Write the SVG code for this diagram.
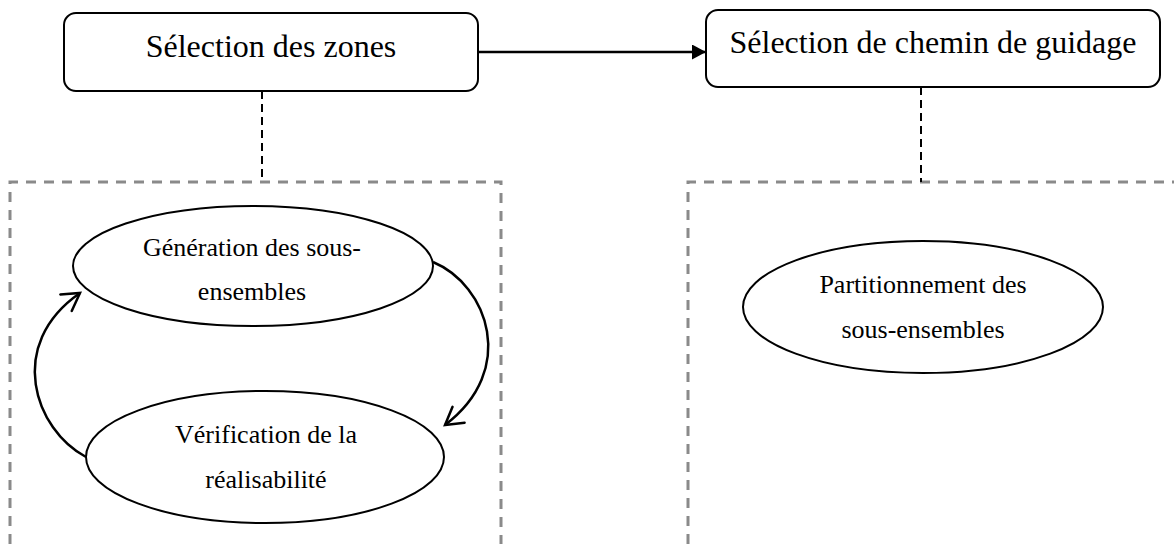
<svg xmlns="http://www.w3.org/2000/svg" width="1174" height="544" viewBox="0 0 1174 544">
  <style>
    .box { fill: #ffffff; stroke: #000000; stroke-width: 2; }
    .oval { fill: #ffffff; stroke: #000000; stroke-width: 2; }
    .title { font-family: "Liberation Serif", "Times New Roman", serif; font-size: 32px; fill: #000000; text-anchor: middle; }
    .label { font-family: "Liberation Serif", "Times New Roman", serif; font-size: 26px; fill: #000000; text-anchor: middle; }
    .frame { fill: none; stroke: #8a8a8a; stroke-width: 3; stroke-dasharray: 10 8; }
    .link { fill: none; stroke: #000000; stroke-width: 2; stroke-dasharray: 8 5; }
    .flow { fill: none; stroke: #000000; stroke-width: 2.5; }
    .loop { fill: none; stroke: #000000; stroke-width: 2.5; marker-end: url(#chevron); }
  </style>
  <defs>
    <marker id="solidHead" markerUnits="userSpaceOnUse" markerWidth="16" markerHeight="16" refX="14" refY="7.5" orient="auto">
      <path d="M0,0 L14,7.5 L0,15 Z" fill="#000000"/>
    </marker>
    <marker id="chevron" markerUnits="userSpaceOnUse" markerWidth="24" markerHeight="24" refX="17" refY="11" orient="auto" overflow="visible">
      <path d="M0,1 L17,11 L0,21" fill="none" stroke="#000000" stroke-width="2.5" stroke-linecap="round" stroke-linejoin="miter"/>
    </marker>
  </defs>

  <!-- dashed grouping frames -->
  <g id="frame-zones">
    <path class="frame" d="M10,544 V182 H501 V544"/>
  </g>
  <g id="frame-chemin">
    <path class="frame" d="M688,544 V182 H1176"/>
  </g>

  <!-- connectors -->
  <g id="connectors">
    <line class="flow" x1="478" y1="52" x2="706" y2="52" marker-end="url(#solidHead)"/>
    <line class="link" x1="262" y1="91" x2="262" y2="182"/>
    <line class="link" x1="921" y1="87" x2="921" y2="182"/>
    <path class="loop" d="M433,262 C488,285 518,370 445,425"/>
    <path class="loop" d="M86,457 C35,430 5,345 80,293"/>
  </g>

  <g id="node-selection-zones">
    <rect class="box" x="64" y="13" width="414" height="78" rx="12" ry="12"/>
    <text class="title" x="271" y="57">Sélection des zones</text>
  </g>

  <g id="node-selection-chemin">
    <rect class="box" x="706" y="10" width="454" height="77" rx="12" ry="12"/>
    <text class="title" x="933" y="53">Sélection de chemin de guidage</text>
  </g>

  <g id="node-generation">
    <ellipse class="oval" cx="253" cy="266" rx="180" ry="60"/>
    <text class="label" x="252" y="256">Génération des sous-</text>
    <text class="label" x="252" y="300">ensembles</text>
  </g>

  <g id="node-verification">
    <ellipse class="oval" cx="265" cy="457" rx="179" ry="66"/>
    <text class="label" x="266" y="443">Vérification de la</text>
    <text class="label" x="266" y="488">réalisabilité</text>
  </g>

  <g id="node-partitionnement">
    <ellipse class="oval" cx="923" cy="307" rx="180" ry="66"/>
    <text class="label" x="923" y="293">Partitionnement des</text>
    <text class="label" x="923" y="338">sous-ensembles</text>
  </g>
</svg>
